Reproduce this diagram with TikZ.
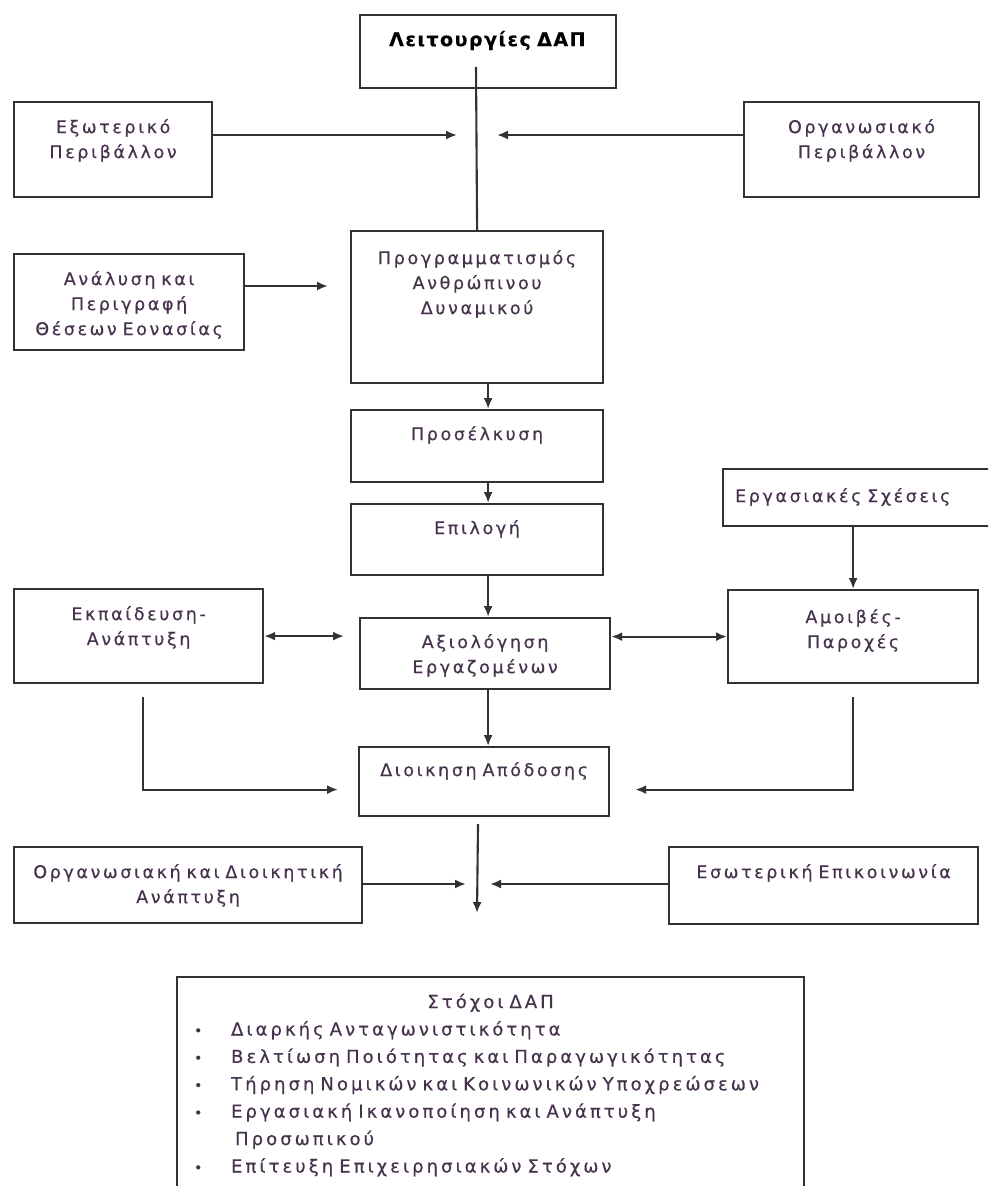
\documentclass[tikz,border=0pt]{standalone}
\usepackage{fontspec}
\setmainfont[LetterSpace=15,WordSpace=2.0,FakeBold=0.4]{DejaVu Sans}
\usepackage{tikz}
\usetikzlibrary{arrows.meta}
\usetikzlibrary{positioning}
\definecolor{txtc}{RGB}{70,50,76}
\definecolor{lnc}{RGB}{50,50,50}
\tikzstyle{bx}=[draw=lnc,line width=2.2pt,anchor=north west,inner sep=0pt,align=center,text=txtc,text height=31pt,font=\fontsize{17.5}{25}\selectfont]
\tikzstyle{con}=[draw=lnc,line width=2.1pt]
\newcommand{\itm}{\hspace*{17pt}\makebox[37pt][l]{\fontsize{14}{14}\selectfont •}}

\begin{document}
\begin{tikzpicture}[x=1pt,y=-1pt,>={Latex[length=11pt,width=9pt]}]
	\useasboundingbox (0,0) rectangle (988,1186);
	\clip (0,0) rectangle (988,1186);
	\fill[white] (0,0) rectangle (988,1186);

	\node[bx,text width=256pt,text depth=42pt,text=black,font=\fontsize{19}{25}\selectfont\addfontfeature{LetterSpace=8}] (func) at (359,14) {\textbf{Λειτουργίες ΔΑΠ}};
	\node[bx,text width=198pt,text depth=64pt] (ext) at (13,101) {Εξωτερικό\\Περιβάλλον};
	\node[bx,text width=235pt,text depth=64pt] (orgenv) at (743,101) {Οργανωσιακό\\Περιβάλλον};
	\node[bx,text width=230pt,text depth=65pt] (analysis) at (13,253) {Ανάλυση και\\Περιγραφή\\Θέσεων Εονασίας};
	\node[bx,text width=252pt,text depth=119pt,text height=33pt] (prog) at (350,230) {Προγραμματισμός\\Ανθρώπινου\\Δυναμικού};
	\node[bx,text width=252pt,text depth=42pt,text height=30pt] (attr) at (350,409) {Προσέλκυση};
	\node[bx,text width=252pt,text depth=41pt,text height=30pt] (sel) at (350,503) {Επιλογή};
	\node[bx,text width=256pt,text depth=24pt,text height=33pt,align=left,inner xsep=12pt] (rel) at (722,468) {Εργασιακές Σχέσεις};
	\node[bx,text width=249pt,text depth=63pt] (train) at (13,588) {Εκπαίδευση-\\Ανάπτυξη};
	\node[bx,text width=250pt,text depth=41pt,text height=30pt] (appr) at (359,617) {Αξιολόγηση\\Εργαζομένων};
	\node[bx,text width=250pt,text depth=60pt,text height=33pt] (pay) at (727,589) {Αμοιβές-\\Παροχές};
	\node[bx,text width=250pt,text depth=40pt,text height=29pt] (perf) at (358,746) {Διοικηση Απόδοσης};
	\node[bx,text width=348pt,text depth=45pt] (orgdev) at (13,846) {Οργανωσιακή και Διοικητική\\Ανάπτυξη};
	\node[bx,text width=309pt,text depth=46pt] (comm) at (668,846) {Εσωτερική Επικοινωνία};
	\node[bx,text width=627pt,text depth=193pt,align=left,font=\fontsize{18}{27.4}\selectfont\addfontfeature{LetterSpace=17}] (goals) at (176,976) {{\centering Στόχοι ΔΑΠ\par}
		\itm Διαρκής Ανταγωνιστικότητα\par
		\itm Βελτίωση Ποιότητας και Παραγωγικότητας\par
		\itm Τήρηση Νομικών και Κοινωνικών Υποχρεώσεων\par
		\itm Εργασιακή Ικανοποίηση και Ανάπτυξη\par
		\hspace*{58pt}Προσωπικού\par
		\itm Επίτευξη Επιχειρησιακών Στόχων};

	\coordinate (top) at (476,67);
	\coordinate (h1l) at (457,135);
	\coordinate (h1r) at (497,135);
	\coordinate (anatip) at (328,286);
	\coordinate (h2) at (477,913);
	\coordinate (h2l) at (466,884);
	\coordinate (h2r) at (490,884);

	\draw[con] (top) -- (prog.north);
	\draw[con,->] (ext.east |- h1l) -- (h1l);
	\draw[con,->] (orgenv.west |- h1r) -- (h1r);
	\draw[con,->] (analysis.east |- anatip) -- (anatip);
	\draw[con,->] ([xshift=11pt]prog.south) -- ([xshift=11pt]attr.north);
	\draw[con,->] ([xshift=11pt]attr.south) -- ([xshift=11pt]sel.north);
	\draw[con,->] ([xshift=11pt]sel.south) -- ([xshift=11pt]sel.south |- appr.north);
	\draw[con,->] (pay.north |- rel.south) -- (pay.north);
	\draw[con,<->,shorten >=15pt] (train.east) -- (train.east -| appr.west);
	\draw[con,<->] (appr.east |- pay.west) -- (pay.west);
	\draw[con,->] ([xshift=3pt]appr.south) -- ([xshift=3pt]appr.south |- perf.north);
	\draw[con,->,shorten <=13pt,shorten >=20pt] ([xshift=4pt]train.south) |- ([yshift=-8pt]perf.west);
	\draw[con,->,shorten <=13pt,shorten >=25pt] (pay.south) |- ([yshift=-8pt]perf.east);
	\draw[con,->,shorten <=7pt] ([xshift=-6pt]perf.south) -- (h2);
	\draw[con,->] (orgdev.east |- h2l) -- (h2l);
	\draw[con,->] (comm.west |- h2r) -- (h2r);
\end{tikzpicture}
\end{document}
